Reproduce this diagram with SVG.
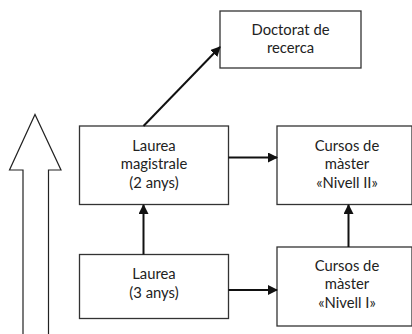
<svg xmlns="http://www.w3.org/2000/svg" width="412" height="334" viewBox="0 0 412 334">
<style>
.box{fill:#fff;stroke:#333;stroke-width:1.3}
.t{font-family:Lato,"Noto Sans",sans-serif;font-size:14.8px;fill:#222;text-anchor:middle}
.c{stroke:#111;stroke-width:2;fill:none;marker-end:url(#ah)}
</style>
<defs>
<marker id="ah" viewBox="0 0 10 10" refX="9" refY="5" markerWidth="5" markerHeight="5" orient="auto" markerUnits="strokeWidth">
<path d="M0,0 L10,5 L0,10 z" fill="#111"/>
</marker>
</defs>
<g id="bigArrow">
<path d="M23,334 L23,170 L9.5,170 L35,114.5 L61,170 L48.5,170 L48.5,334" fill="#fff" stroke="#222" stroke-width="1.2"/>
</g>
<g id="doctorat">
<rect class="box" x="220" y="11" width="141" height="57"/>
<text class="t" x="290.5" y="35">Doctorat de</text>
<text class="t" x="290.5" y="53">recerca</text>
</g>
<g id="magistrale">
<rect class="box" x="79.5" y="126" width="149" height="78.5"/>
<text class="t" x="154" y="151">Laurea</text>
<text class="t" x="154" y="169">magistrale</text>
<text class="t" x="154" y="187.5">(2 anys)</text>
</g>
<g id="master2">
<rect class="box" x="277" y="126" width="135" height="78.5"/>
<text class="t" x="347" y="151">Cursos de</text>
<text class="t" x="347" y="169">màster</text>
<text class="t" x="347" y="187.5">«Nivell II»</text>
</g>
<g id="laurea">
<rect class="box" x="79.5" y="254.5" width="149" height="64"/>
<text class="t" x="154" y="279">Laurea</text>
<text class="t" x="154" y="297.5">(3 anys)</text>
</g>
<g id="master1">
<rect class="box" x="277" y="247" width="135" height="79"/>
<text class="t" x="347" y="271">Cursos de</text>
<text class="t" x="347" y="289">màster</text>
<text class="t" x="347" y="308">«Nivell I»</text>
</g>
<g id="connectors">
<line class="c" x1="143.5" y1="126" x2="220" y2="47"/>
<line class="c" x1="228.5" y1="157.5" x2="277" y2="157.5"/>
<line class="c" x1="228.5" y1="290" x2="277" y2="290"/>
<line class="c" x1="143.5" y1="254.5" x2="143.5" y2="205"/>
<line class="c" x1="348.5" y1="247" x2="348.5" y2="205"/>
</g>
</svg>
